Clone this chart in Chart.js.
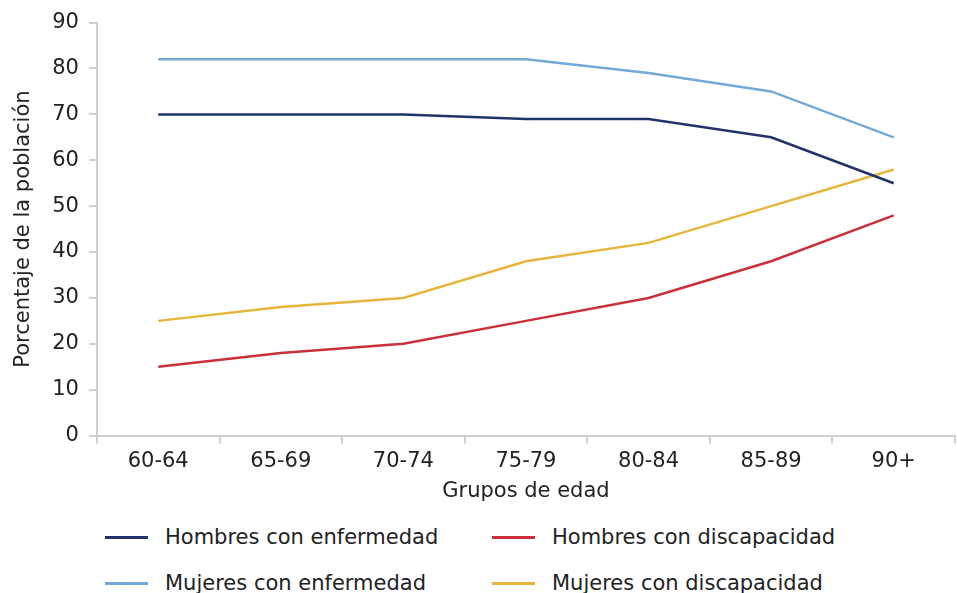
<!DOCTYPE html>
<html>
<head>
<meta charset="utf-8">
<script src="https://cdn.jsdelivr.net/npm/chart.js@4/dist/chart.umd.min.js"></script>
<style>
  html, body { margin: 0; padding: 0; background: #fff; }
  #wrap { position: relative; width: 957px; height: 593px; overflow: hidden; }
  #box { position: absolute; left: 0; top: 0; width: 957px; height: 508px; }
  .leg { position: absolute; font-family: "DejaVu Sans", sans-serif; font-size: 21px; color: #222; white-space: nowrap; }
  .leg span.mk { position: absolute; left: 0; top: 50%; width: 43px; height: 3px; margin-top: -1px; }
  .leg span.tx { position: absolute; left: 60px; top: 0; line-height: 24px; }
</style>
</head>
<body>
<div id="wrap">
  <div id="box"><canvas id="chart"></canvas></div>
  <div id="legend"></div>
</div>
<script>
const grupos = ['60-64', '65-69', '70-74', '75-79', '80-84', '85-89', '90+'];
const hombresEnfermedad = [70, 70, 70, 69, 69, 65, 55];
const hombresDiscapacidad = [15, 18, 20, 25, 30, 38, 48];
const mujeresEnfermedad = [82, 82, 82, 82, 79, 75, 65];
const mujeresDiscapacidad = [25, 28, 30, 38, 42, 50, 58];

const series = [
    { label: 'Hombres con enfermedad', data: hombresEnfermedad, color: '#22336b' },
    { label: 'Hombres con discapacidad', data: hombresDiscapacidad, color: '#c9303a' },
    { label: 'Mujeres con enfermedad', data: mujeresEnfermedad, color: '#72a9d9' },
    { label: 'Mujeres con discapacidad', data: mujeresDiscapacidad, color: '#e6b53c' }
];

const font = { family: '"DejaVu Sans", sans-serif', size: 21 };

new Chart(document.getElementById('chart'), {
    type: 'line',
    data: {
        labels: grupos,
        datasets: series.map(s => ({
            label: s.label,
            data: s.data,
            borderColor: s.color,
            backgroundColor: s.color,
            borderWidth: 2.5,
            pointRadius: 0,
            tension: 0,
            fill: false
        }))
    },
    options: {
        responsive: true,
        maintainAspectRatio: false,
        animation: false,
        layout: { padding: { top: 7, right: 2, left: 7, bottom: 0 } },
        plugins: { legend: { display: false }, tooltip: { enabled: false } },
        scales: {
            x: {
                offset: true,
                grid: { display: true, drawOnChartArea: false, offset: true, tickLength: 8, color: '#d0d0d0', lineWidth: 2 },
                border: { color: '#d0d0d0', width: 2 },
                ticks: { color: '#222', font: font, padding: 5 },
                title: { display: true, text: 'Grupos de edad', color: '#222', font: font, padding: { top: 0 } }
            },
            y: {
                min: 0,
                max: 90,
                ticks: { stepSize: 10, color: '#222', font: font, padding: 10 },
                grid: { display: true, drawOnChartArea: false, tickLength: 8, color: '#d0d0d0', lineWidth: 2 },
                border: { color: '#d0d0d0', width: 2 },
                title: { display: true, text: 'Porcentaje de la población', color: '#222', font: font, padding: { bottom: 6 } }
            }
        }
    }
});

// leyenda en dos columnas
const legend = document.getElementById('legend');
const pos = [[105, 525], [492, 525], [105, 571], [492, 571]];
series.forEach((s, i) => {
    const d = document.createElement('div');
    d.className = 'leg';
    d.style.left = pos[i][0] + 'px';
    d.style.top = pos[i][1] + 'px';
    d.style.height = '24px';
    d.style.width = '420px';
    d.innerHTML = '<span class="mk" style="background:' + s.color + '"></span><span class="tx">' + s.label + '</span>';
    legend.appendChild(d);
});
</script>
</body>
</html>
